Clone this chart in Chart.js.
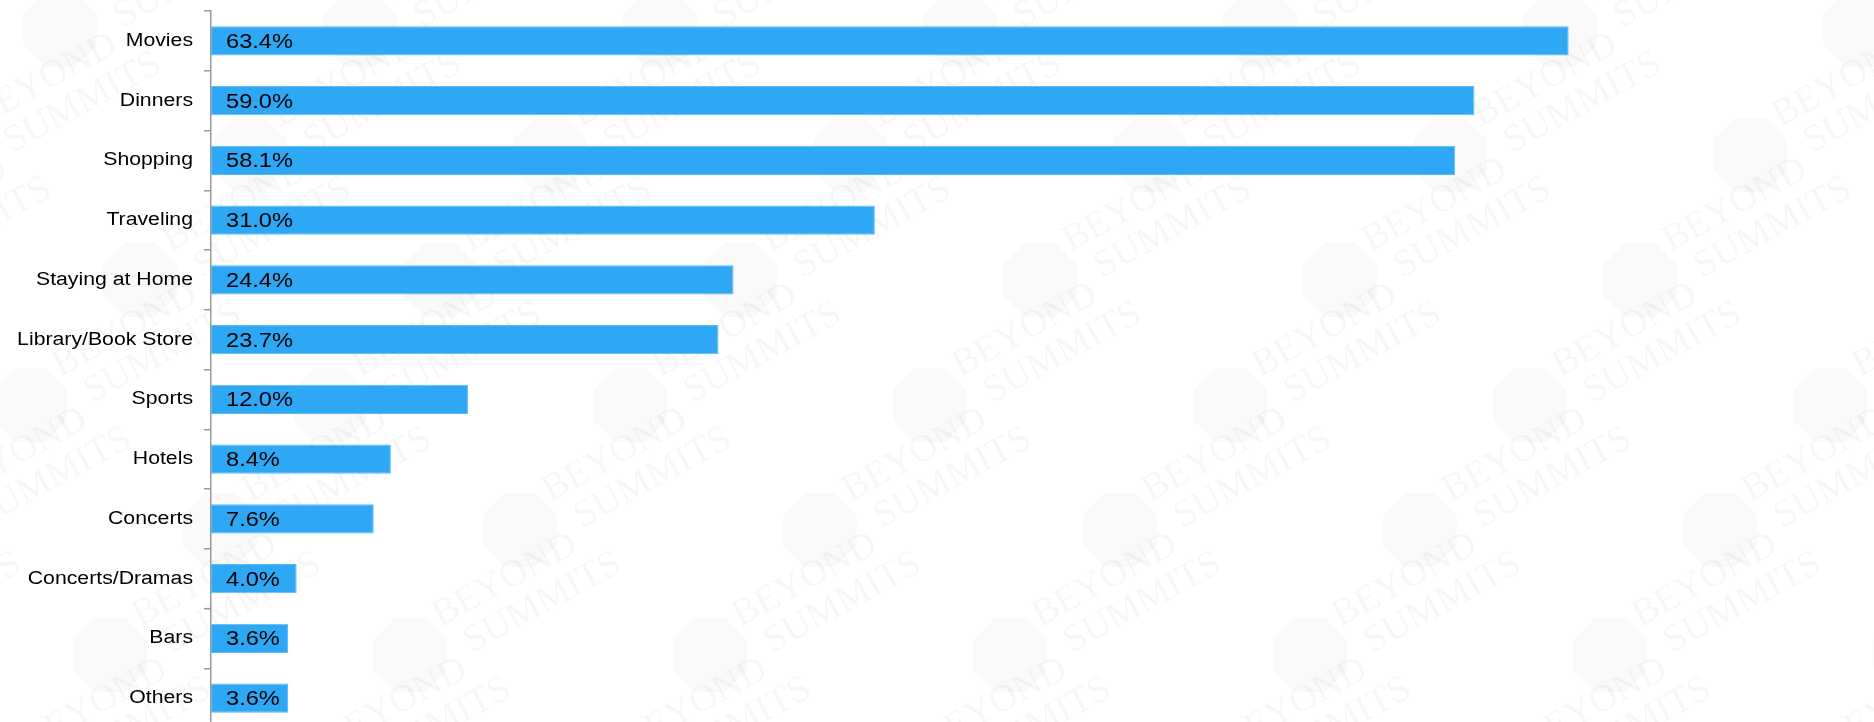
<!DOCTYPE html>
<html>
<head>
<meta charset="utf-8">
<script src="https://cdn.jsdelivr.net/npm/chart.js@4/dist/chart.umd.min.js"></script>
<style>
  html, body { margin: 0; padding: 0; background: #fff; overflow: hidden; }
</style>
</head>
<body>
<canvas id="chart" width="1874" height="736"></canvas>
<script>
const categories = ['Movies', 'Dinners', 'Shopping', 'Traveling', 'Staying at Home', 'Library/Book Store',
  'Sports', 'Hotels', 'Concerts', 'Concerts/Dramas', 'Bars', 'Others']
const shares = [63.4, 59.0, 58.1, 31.0, 24.4, 23.7, 12.0, 8.4, 7.6, 4.0, 3.6, 3.6]
const watermarkLines = ['BEYOND', 'SUMMITS']

const FONT = '"Liberation Sans", Arial, sans-serif'
const STRETCH = 1.18  // text in this deck is set slightly wide

function wideText(ctx, text, x, y, align) {
  ctx.save()
  ctx.translate(x, y)
  ctx.scale(STRETCH, 1)
  ctx.textAlign = align
  ctx.fillText(text, 0, 0)
  ctx.restore()
}

// faint tiled logo text behind the plot
const watermark = {
  id: 'watermark',
  beforeDraw(chart) {
    const ctx = chart.ctx
    ctx.save()
    ctx.fillStyle = '#fff'
    ctx.fillRect(0, 0, chart.width, chart.height)
    for (let row = -2; row < 8; row++) {
      for (let col = -2; col < 9; col++) {
        const x = col * 300 - row * 110 + 60
        const y = row * 125 + 30
        ctx.save()
        ctx.translate(x, y)
        ctx.fillStyle = 'rgba(0,0,0,0.025)'
        ctx.beginPath()
        for (let k = 0; k < 8; k++) {
          const a = Math.PI / 8 + k * Math.PI / 4
          ctx.lineTo(Math.cos(a) * 40, Math.sin(a) * 40)
        }
        ctx.closePath()
        ctx.fill()
        ctx.rotate(-0.5)
        ctx.fillStyle = 'rgba(0,0,0,0.035)'
        ctx.font = '38px "Liberation Serif"'
        ctx.fillText(watermarkLines[0], 40, -10)
        ctx.fillText(watermarkLines[1], 55, 28)
        ctx.restore()
      }
    }
    ctx.restore()
  }
}

// category names on the left and value text at the base of each bar
const barLabels = {
  id: 'barLabels',
  afterDraw(chart) {
    const ctx = chart.ctx
    const yScale = chart.scales.y
    const meta = chart.getDatasetMeta(0)
    ctx.save()
    ctx.fillStyle = '#000'
    ctx.textBaseline = 'middle'
    ctx.font = '18px ' + FONT
    categories.forEach((name, i) => {
      wideText(ctx, name, yScale.right - 18, yScale.getPixelForTick(i), 'right')
    })
    ctx.font = '20px ' + FONT
    meta.data.forEach((bar, i) => {
      wideText(ctx, shares[i].toFixed(1) + '%', bar.base + 15, bar.y + 1.5, 'left')
    })
    ctx.restore()
  }
}

new Chart(document.getElementById('chart'), {
  type: 'bar',
  data: {
    labels: categories,
    datasets: [{
      data: shares,
      backgroundColor: '#2ea8f5',
      borderColor: '#5cbcf7',
      borderWidth: 1,
      borderSkipped: false,
      categoryPercentage: 1,
      barPercentage: 0.49
    }]
  },
  options: {
    indexAxis: 'y',
    responsive: false,
    animation: false,
    layout: { padding: { top: 11, bottom: 8, left: 0, right: 164 } },
    plugins: { legend: { display: false }, tooltip: { enabled: false } },
    scales: {
      x: { display: false, min: 0, max: 70 },
      y: {
        afterFit(scale) {
          scale.width = 211
          scale.paddingTop = 0
          scale.paddingBottom = 0
        },
        border: { color: '#999', width: 1.5 },
        grid: { drawOnChartArea: false, tickLength: 7, color: '#999', lineWidth: 1.5, offset: true },
        ticks: { display: false }
      }
    }
  },
  plugins: [watermark, barLabels]
})
</script>
</body>
</html>
